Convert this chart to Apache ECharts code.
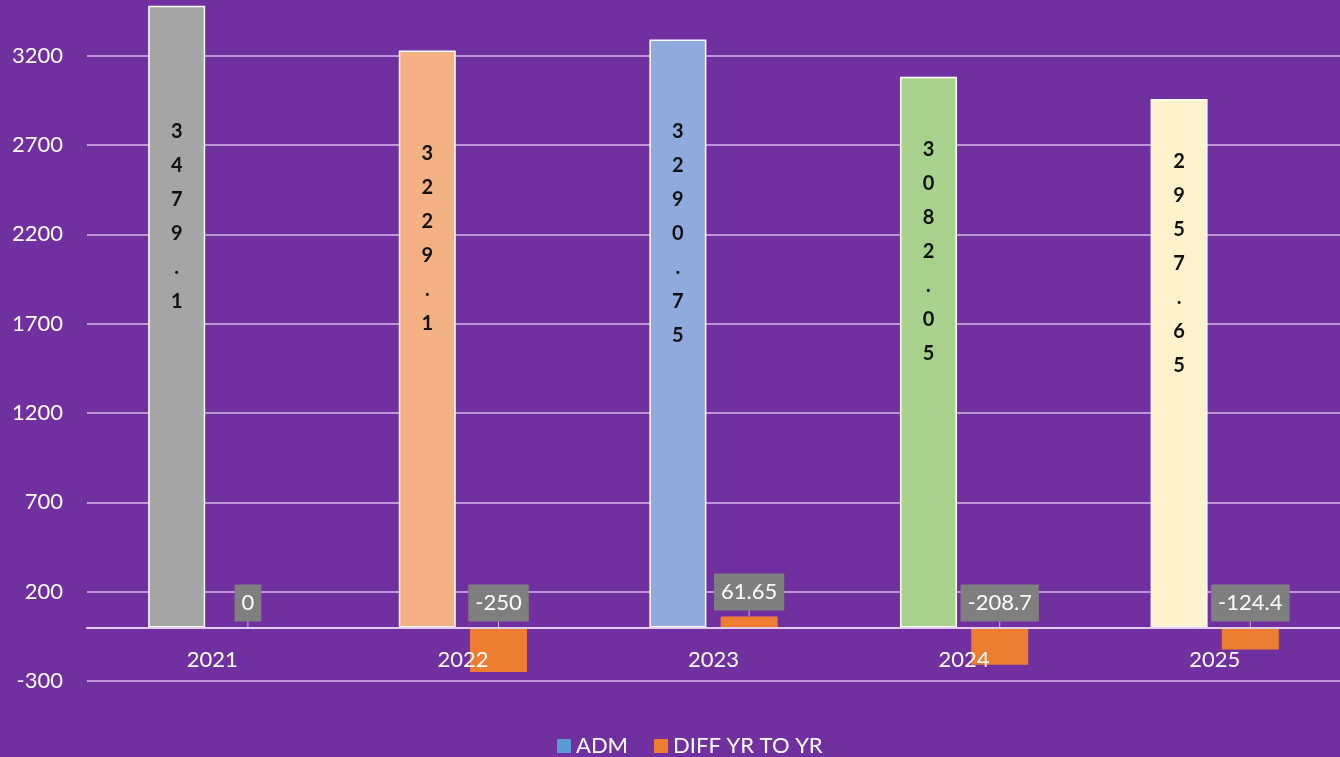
<!DOCTYPE html>
<html>
<head>
<meta charset="utf-8">
<script src="https://cdn.jsdelivr.net/npm/echarts@6/dist/echarts.min.js"></script>
<style>
html,body{margin:0;padding:0;background:#7030A0;}
#main{width:1340px;height:757px;}
</style>
</head>
<body>
<div id="main"></div>
<script>
var years = ['2021', '2022', '2023', '2024', '2025'];
var admValues = [3479.1, 3229.1, 3290.75, 3082.05, 2957.65];
var diffValues = [0, -250, 61.65, -208.7, -124.4];
var admColors = ['#A5A5A5', '#F4B183', '#8FAADC', '#A9D18E', '#FFF2CC'];
var yTicks = [-300, 200, 700, 1200, 1700, 2200, 2700, 3200];

var font = 'Lato, "Open Sans", sans-serif';
var chart = echarts.init(document.getElementById('main'));

chart.setOption({
  backgroundColor: '#7030A0',
  animation: false,
  grid: { left: 87, right: -9, top: 2, bottom: 76, containLabel: false },
  legend: {
    bottom: -5, left: 552,
    itemWidth: 14, itemHeight: 14, itemGap: 26,
    icon: 'rect',
    textStyle: { color: '#FFFFFF', fontSize: 22, fontFamily: font },
    data: [
      { name: 'ADM', itemStyle: { color: '#5B9BD5', borderWidth: 0 } },
      { name: 'DIFF YR TO YR', itemStyle: { color: '#ED7D31', borderWidth: 0 } }
    ]
  },
  xAxis: {
    type: 'category',
    data: years,
    z: 10,
    axisLine: { onZero: true, lineStyle: { color: '#E3CCF0', width: 2 } },
    axisTick: { show: false },
    axisLabel: { color: '#FFFFFF', fontSize: 22, fontFamily: font, margin: -32 },
    splitLine: { show: false }
  },
  yAxis: {
    type: 'value',
    min: yTicks[0], max: 3500, interval: 500,
    axisLine: { show: false },
    axisTick: { show: false },
    axisLabel: {
      color: '#FFFFFF', fontSize: 22, fontFamily: font, margin: 24,
      showMaxLabel: false,
      formatter: function (v) { return yTicks.indexOf(v) >= 0 ? String(v) : ''; }
    },
    splitLine: { showMaxLine: false, lineStyle: { color: '#D7B9EA', width: 1.5 } }
  },
  series: [
    {
      name: 'ADM',
      type: 'bar',
      barWidth: 57,
      barGap: '25%',
      data: admValues.map(function (v, i) {
        return { value: v, itemStyle: { color: admColors[i] } };
      }),
      itemStyle: { borderColor: '#FFFFFF', borderWidth: 1.5 },
      label: {
        show: true,
        position: 'inside',
        offset: [0, -100],
        color: '#111111',
        fontSize: 20,
        fontWeight: 'bold',
        fontFamily: font,
        lineHeight: 34,
        formatter: function (p) { return String(p.value).split('').join('\n'); }
      }
    },
    {
      name: 'DIFF YR TO YR',
      type: 'bar',
      barWidth: 57,
      data: diffValues,
      itemStyle: { color: '#ED7D31' },
      label: {
        show: true,
        position: 'top',
        distance: 6,
        color: '#FFFFFF',
        fontSize: 22,
        fontFamily: font,
        backgroundColor: '#7F7F7F',
        padding: [8, 7, 7, 7]
      },
      labelLine: { show: true, showAbove: true, lineStyle: { color: '#BFBFBF', width: 1 } },
      labelLayout: function (params) {
        var r = params.rect, lr = params.labelRect;
        if (diffValues[params.dataIndex] < 0) {
          var cx = lr.x + lr.width / 2;
          return {
            labelLinePoints: [[cx, lr.y + lr.height], [cx - 3, r.y + r.height / 2], [cx - 6, r.y + r.height]]
          };
        }
        return {};
      }
    }
  ]
});
</script>
</body>
</html>
